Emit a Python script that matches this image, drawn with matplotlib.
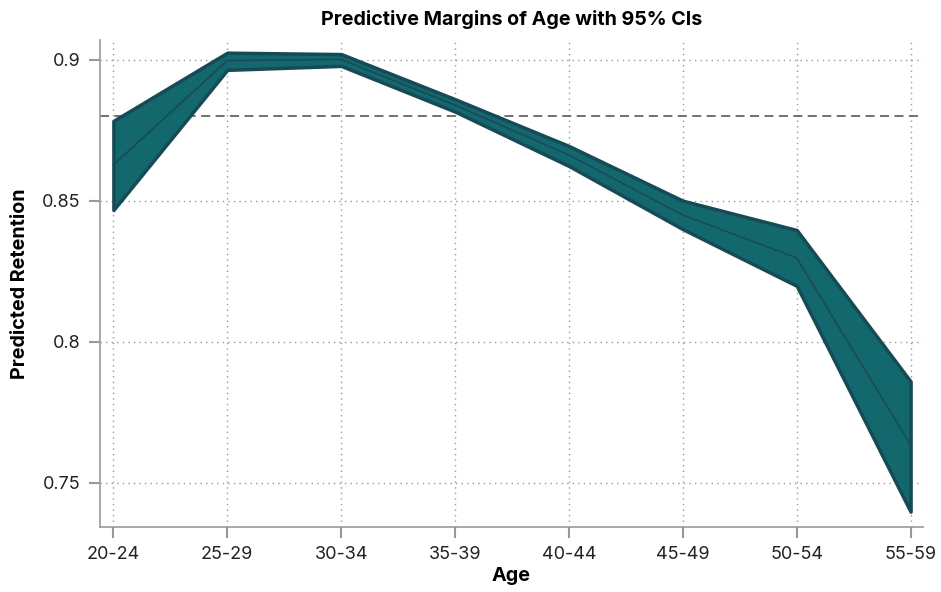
import matplotlib
matplotlib.use("Agg")
import matplotlib.pyplot as plt
import numpy as np

plt.rcParams['font.family'] = ['Inter', 'DejaVu Sans']

age_groups = ["20-24", "25-29", "30-34", "35-39", "40-44", "45-49", "50-54", "55-59"]
margin = [0.8628, 0.8998, 0.9002, 0.8840, 0.8663, 0.8450, 0.8298, 0.7635]
ci_upper = [0.8784, 0.9026, 0.9021, 0.8861, 0.8695, 0.8501, 0.8397, 0.7860]
ci_lower = [0.8468, 0.8965, 0.8979, 0.8817, 0.8624, 0.8400, 0.8199, 0.7398]
reference_level = 0.88

fig = plt.figure(figsize=(9.41, 5.92), dpi=100)
ax = fig.add_axes([0.106, 0.11, 0.875, 0.822])

x = np.arange(len(age_groups))
ax.fill_between(x, ci_lower, ci_upper, facecolor='#12686d', edgecolor='#164a56', linewidth=2.5, zorder=3)
ax.plot(x, margin, color='#1a4a5a', linewidth=1.2, zorder=4)
ax.axhline(reference_level, color='#666666', linestyle=(0, (5, 3)), linewidth=1.3, zorder=2)

ax.set_xticks(x)
ax.set_xticklabels(age_groups)
ax.set_yticks([0.75, 0.8, 0.85, 0.9])
ax.set_yticklabels(["0.75", "0.8", "0.85", "0.9"])
ax.set_xlim(-0.12, 7.11)
ax.set_ylim(0.7344, 0.907)

ax.grid(True, linestyle=(0, (1, 3)), color='#999999', linewidth=1.0)
ax.set_axisbelow(True)
for side in ['top', 'right']:
    ax.spines[side].set_visible(False)
for side in ['left', 'bottom']:
    ax.spines[side].set_color('#999999')
    ax.spines[side].set_linewidth(1.2)
ax.tick_params(axis='both', direction='out', length=8, width=1.5, color='#999999',
               labelsize=13, labelcolor='#222222', pad=6)

ax.set_title("Predictive Margins of Age with 95% CIs", fontsize=14.2, fontweight='bold', pad=11)
ax.set_xlabel("Age", fontsize=14.2, fontweight='bold', labelpad=3)
ax.set_ylabel("Predicted Retention", fontsize=14.2, fontweight='bold', labelpad=9)

fig.savefig("out.png", dpi=100)
